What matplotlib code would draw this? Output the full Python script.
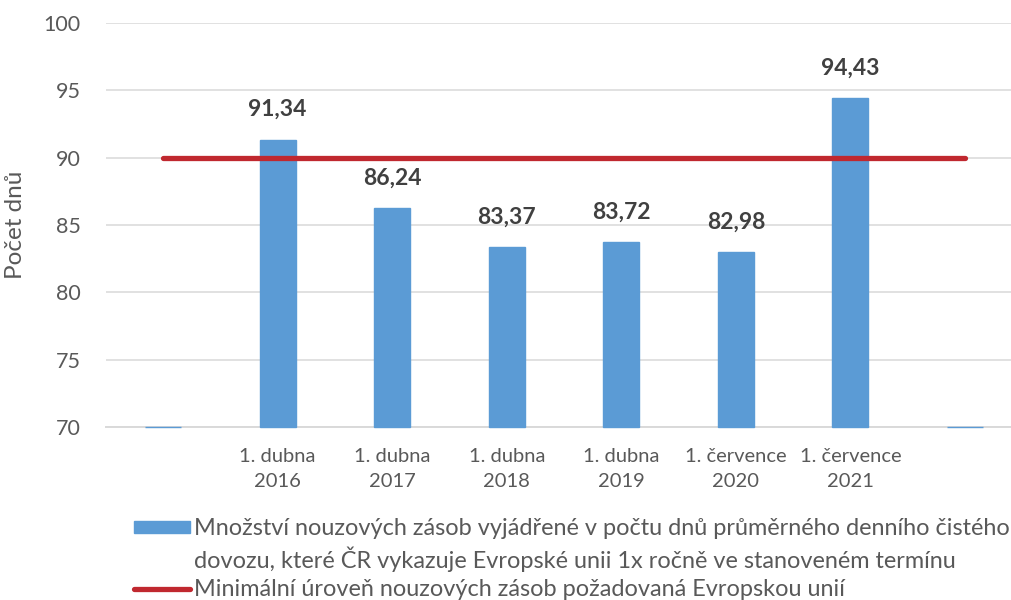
import matplotlib
matplotlib.use("Agg")
import matplotlib.pyplot as plt
from matplotlib.patches import Patch
from matplotlib.lines import Line2D
import numpy as np

categories = ["", "1. dubna\n2016", "1. dubna\n2017", "1. dubna\n2018",
              "1. dubna\n2019", "1. července\n2020", "1. července\n2021", ""]
stock_days = [70, 91.34, 86.24, 83.37, 83.72, 82.98, 94.43, 70]
eu_minimum = [90, 90, 90, 90, 90, 90, 90, 90]
value_labels = ["", "91,34", "86,24", "83,37", "83,72", "82,98", "94,43", ""]
yticks = [70, 75, 80, 85, 90, 95, 100]

label_bar = "Množství nouzových zásob vyjádřené v počtu dnů průměrného denního čistého"
label_bar2 = "dovozu, které ČR vykazuje Evropské unii 1x ročně ve stanoveném termínu"
label_line = "Minimální úroveň nouzových zásob požadovaná Evropskou unií"

plt.rcParams['font.family'] = ['Lato', 'DejaVu Sans']

blue = "#5B9BD5"
red = "#C0282F"
grid = "#D9D9D9"
txt = "#595959"

fig = plt.figure(figsize=(10.11, 6.0), dpi=100)
ax = fig.add_axes([0.1046, 0.2883, 0.9066, 0.6733])

x = np.arange(len(categories))
ymin = 70
heights = [v - ymin for v in stock_days]
ax.bar(x, heights, bottom=ymin, width=0.314, color=blue, edgecolor=blue,
       linewidth=1.0, zorder=3, clip_on=False)
ax.plot(x, eu_minimum, color=red, linewidth=3.8, solid_capstyle='round', zorder=4)

for xi, v, lab in zip(x, stock_days, value_labels):
    if lab:
        ax.text(xi, v + 1.45, lab, ha='center', va='bottom', fontsize=16.5,
                fontweight='bold', color="#404040")

ax.set_xlim(-0.5, len(categories) - 0.5)
ax.set_ylim(70, 100)
ax.set_yticks(yticks)
ax.set_yticklabels([str(t) for t in yticks], fontsize=15.5, color=txt)
ax.set_xticks(x)
ax.set_xticklabels(categories, fontsize=14.5, color=txt, linespacing=1.6)
ax.tick_params(axis='both', length=0)
ax.tick_params(axis='y', pad=18)
ax.tick_params(axis='x', pad=15)
ax.yaxis.grid(True, color=grid, linewidth=1.1, zorder=0)
ax.set_axisbelow(True)
for s in ['top', 'right', 'left']:
    ax.spines[s].set_visible(False)
ax.spines['bottom'].set_color(grid)
ax.spines['bottom'].set_linewidth(1.4)

ax.set_ylabel("Počet dnů", fontsize=17.5, color=txt)
ax.yaxis.set_label_coords(-0.087, 0.5)

handles = [Patch(facecolor=blue, edgecolor=blue),
           Patch(facecolor='none', edgecolor='none'),
           Line2D([0], [0], color=red, linewidth=3.8, solid_capstyle='round')]
labels = [label_bar, label_bar2, label_line]
leg = fig.legend(handles, labels, loc='upper left', bbox_to_anchor=(0.133, 0.136),
                 frameon=False, fontsize=16.9, handlelength=2.35, handleheight=0.45,
                 handletextpad=0.2, labelspacing=0.31, borderaxespad=0, borderpad=0)
for t in leg.get_texts():
    t.set_color(txt)

fig.savefig("out.png", dpi=100)
